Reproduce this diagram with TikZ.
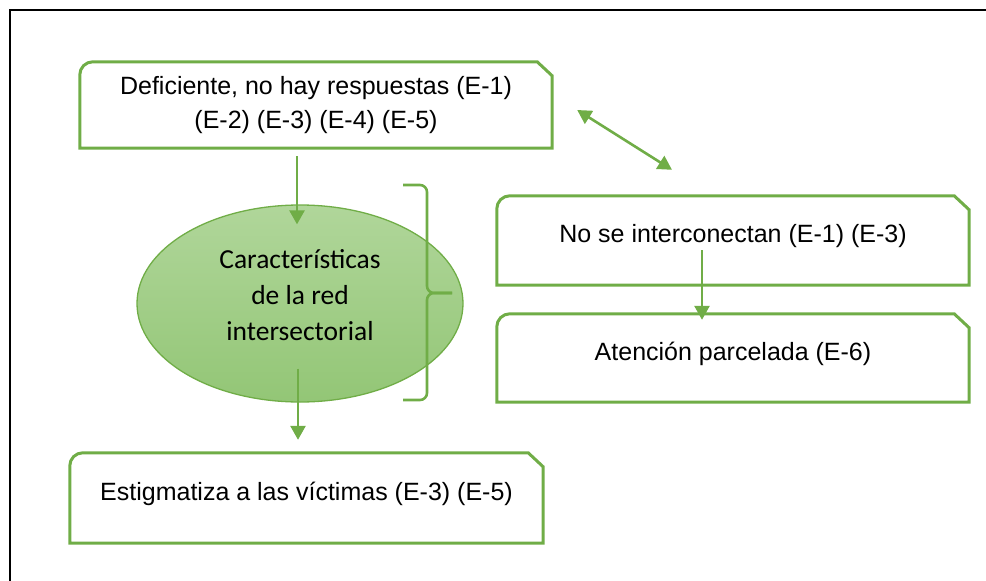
\documentclass[tikz,border=0pt]{standalone}
\usepackage{fontspec}
\setmainfont{Liberation Sans}
\newfontfamily\carlito{Carlito}
\usetikzlibrary{arrows.meta,shapes.geometric,positioning,calc}

\definecolor{officegreen}{HTML}{70AD47}
\definecolor{ovaltop}{HTML}{B0D69A}
\definecolor{ovalbottom}{HTML}{93C676}

% frame with a rounded top left corner and a snipped top right corner
\newcommand{\snipframe}[1]{%
  \draw[officegreen,line width=3pt]
    (#1.south west) -- ([yshift=-13pt]#1.north west)
    arc[start angle=180,end angle=90,radius=13pt]
    -- ([xshift=-15pt]#1.north east) -- ([yshift=-14pt]#1.north east)
    -- (#1.south east) -- cycle;}

\begin{document}
\begin{tikzpicture}[x=1pt,y=-1pt,
    snipbox/.style={minimum width=472pt,minimum height=88pt,inner sep=0pt,
      text depth=14pt,font=\fontsize{25}{34}\selectfont,align=center},
    oval/.style={ellipse,draw=officegreen,line width=1.3pt,
      top color=ovaltop,bottom color=ovalbottom,
      minimum width=326pt,minimum height=197pt,inner sep=0pt,text depth=17pt,
      font=\carlito\fontsize{27.5}{36}\selectfont,align=center},
    link/.style={officegreen,line width=2.6pt,-{Triangle[width=15pt,length=14pt]}},
    biglink/.style={officegreen,line width=2.6pt,
      {Triangle[width=15pt,length=14pt]}-{Triangle[width=15pt,length=14pt]}}]
  \useasboundingbox (0,0) rectangle (986,581);
  \draw[black,line width=2.8pt] (10,10) rectangle (1000,600);

  % boxes
  \node[snipbox,minimum height=86pt,text depth=5pt] (deficiente) at (316,105)
    {Deficiente, no hay respuestas (E-1)\\(E-2) (E-3) (E-4) (E-5)};
  \node[snipbox,minimum height=89pt] (interconectan) at (733,240.5)
    {No se interconectan (E-1) (E-3)};
  \node[snipbox] (parcelada) at (733,358) {Atención parcelada (E-6)};
  \node[snipbox,minimum width=473pt,minimum height=90pt] (victimas) at (306.5,498)
    {Estigmatiza a las víctimas (E-3) (E-5)};
  \foreach \n in {deficiente,interconectan,parcelada,victimas}
    \snipframe{\n};

  % central oval
  \node[oval] (red) at (300,303.5)
    {Características\\de la red\\intersectorial};

  % bracket
  \draw[officegreen,line width=2.6pt,rounded corners=7pt]
    (403,185) -- (427,185) -- (427,293) -- (452,293);
  \draw[officegreen,line width=2.6pt,rounded corners=7pt]
    (403,400) -- (427,400) -- (427,293) -- (452,293);

  % connectors
  \draw[link] ([xshift=-19pt,yshift=-8pt]deficiente.south)
    -- ([xshift=-3pt,yshift=-20pt]red.north);
  \draw[link] ([xshift=-2pt,yshift=34pt]red.south)
    -- ([xshift=-8.5pt,yshift=13pt]victimas.north);
  \draw[link] ([xshift=-31pt,yshift=-9.5pt]interconectan.center)
    -- ([xshift=-31pt,yshift=-6pt]parcelada.north);
  \draw[biglink] ([xshift=25pt,yshift=-5pt]deficiente.east)
    -- ([xshift=-61pt,yshift=26pt]interconectan.north);
\end{tikzpicture}
\end{document}
